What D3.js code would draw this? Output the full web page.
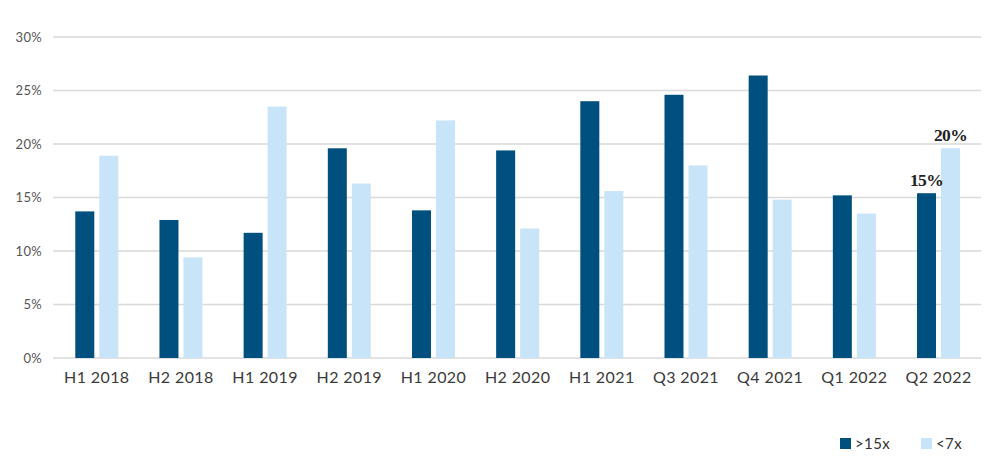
<!DOCTYPE html>
<html><head><meta charset="utf-8">
<script src="https://cdn.jsdelivr.net/npm/d3@7"></script>
<style>body{margin:0;background:#fff}svg{display:block}</style>
</head><body><svg id="c" width="1000" height="462"></svg>
<script>
const categories = ["H1 2018","H2 2018","H1 2019","H2 2019","H1 2020","H2 2020","H1 2021","Q3 2021","Q4 2021","Q1 2022","Q2 2022"];
const seriesHigh = [13.7,12.9,11.7,19.6,13.8,19.4,24.0,24.6,26.4,15.2,15.4];
const seriesLow  = [18.9,9.4,23.5,16.3,22.2,12.1,15.6,18.0,14.8,13.5,19.6];
const seriesNames = [">15x","<7x"];
const yTicks = [0,5,10,15,20,25,30];
const annotations = [{cat:"Q2 2022", series:0, text:"15%"},{cat:"Q2 2022", series:1, text:"20%"}];

const colors = ["#00507f","#c8e4f8"];
const svg = d3.select("#c");
const x = d3.scaleBand().domain(categories).range([54.7,980.6]);
const y = d3.scaleLinear().domain([0,30]).range([358,37]);

// gridlines
svg.append("g").selectAll("line").data(yTicks).join("line")
  .attr("x1",53).attr("x2",981).attr("y1",d=>y(d)).attr("y2",d=>y(d))
  .attr("stroke","#d9d9d9").attr("stroke-width",1.5);

// y labels
svg.append("g").selectAll("text").data(yTicks).join("text")
  .attr("x",42).attr("y",d=>y(d)+4.5).attr("text-anchor","end")
  .attr("font-family","Lato, sans-serif").attr("font-size",13).attr("fill","#555")
  .attr("letter-spacing",0.3)
  .text(d=>d+"%");

const barW = 19, gap = 5;
const series = [seriesHigh, seriesLow];
series.forEach((vals,si)=>{
  svg.append("g").selectAll("rect").data(categories).join("rect")
    .attr("x",(d)=>x(d)+x.bandwidth()/2 + (si===0 ? -(gap/2+barW) : gap/2))
    .attr("width",barW)
    .attr("y",(d,i)=>y(vals[i]))
    .attr("height",(d,i)=>y(0)-y(vals[i]))
    .attr("fill",colors[si]);
});

// x labels
svg.append("g").selectAll("text").data(categories).join("text")
  .attr("x",d=>x(d)+x.bandwidth()/2).attr("y",383).attr("text-anchor","middle")
  .attr("font-family","Lato, sans-serif").attr("font-size",16).attr("fill","#3a3a3a")
  .attr("letter-spacing",0.4)
  .text(d=>d);

// annotations
svg.append("g").selectAll("text").data(annotations).join("text")
  .attr("x",d=>x(d.cat)+x.bandwidth()/2 + (d.series===0 ? -(gap/2+barW/2) : gap/2+barW/2))
  .attr("y",d=>y(series[d.series][categories.indexOf(d.cat)])-7)
  .attr("text-anchor","middle")
  .attr("font-family","'Liberation Serif', serif").attr("font-weight","bold").attr("font-size",17.5)
  .attr("fill","#222").attr("letter-spacing",-0.6)
  .text(d=>d.text);

// legend
const leg = [{x:840},{x:921}];
seriesNames.forEach((n,i)=>{
  svg.append("rect").attr("x",leg[i].x).attr("y",438).attr("width",11).attr("height",11).attr("fill",colors[i]);
  svg.append("text").attr("x",leg[i].x+15).attr("y",449)
    .attr("font-family","Lato, sans-serif").attr("font-size",15).attr("fill","#333")
    .attr("letter-spacing",0.4).text(n);
});
</script></body></html>
